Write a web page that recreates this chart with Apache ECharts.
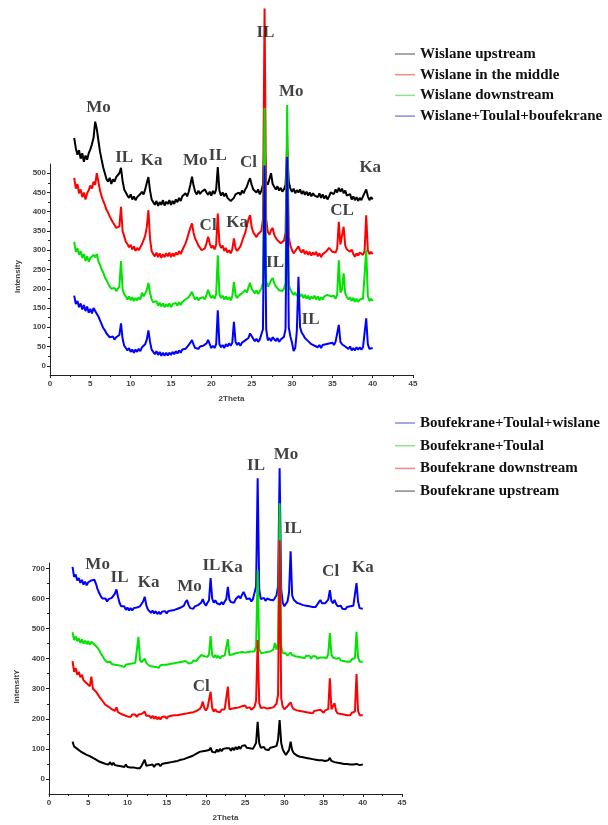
<!DOCTYPE html>
<html>
<head>
<meta charset="utf-8">
<script src="https://cdn.jsdelivr.net/npm/echarts@6/dist/echarts.min.js"></script>
<style>
  html, body { margin: 0; padding: 0; background: #ffffff; }
  #chart { width: 608px; height: 825px; }
</style>
</head>
<body>
<div id="chart"></div>
<script>
// 2θ sampling positions shared by every scan: 3° to 40° in 0.2° steps (186 points)
const twoTheta = [];
for (let i = 0; i <= 185; i++) twoTheta.push(+(3 + i * 0.2).toFixed(1));

// ---------- Wislane scans (upper panel) ----------
const wislaneUpstream = [
  592,565,548,560,538,552,530,546,535,552,
  562,575,592,634,615,585,556,535,515,500,
  485,478,488,472,484,478,490,485,500,514,
  480,458,450,442,436,445,432,440,430,438,
  436,446,452,445,458,475,490,455,432,425,
  418,428,415,425,418,430,416,426,420,430,
  418,428,420,432,425,436,428,440,438,448,
  440,452,470,491,468,452,445,455,446,452,
  448,458,450,444,452,442,454,446,458,516,
  455,442,450,440,448,436,432,428,426,436,
  445,440,450,444,455,448,458,465,478,487,
  470,458,462,450,458,445,455,470,580,478,
  470,485,500,472,465,458,466,455,462,452,
  458,470,560,478,460,452,460,448,456,450,
  458,446,454,444,452,442,450,440,448,442,
  446,438,448,436,445,434,442,432,440,450,
  455,446,458,450,462,452,460,448,455,442,
  438,446,432,440,430,438,428,436,430,440,
  435,458,440,430,438,432
];
const wislaneMiddle = [
  488,460,472,448,458,438,450,432,448,456,
  468,460,478,470,500,478,455,440,428,418,
  405,398,388,380,372,366,358,354,362,413,
  350,336,322,316,308,314,302,310,298,306,
  300,308,316,326,338,360,404,330,298,290,
  284,294,282,292,280,290,282,292,284,294,
  282,292,284,294,288,298,290,300,305,318,
  330,345,358,370,345,330,322,312,306,300,
  298,305,318,335,318,306,312,302,315,395,
  318,306,312,298,306,294,300,292,302,331,
  305,298,304,310,322,335,345,362,380,391,
  360,346,340,334,342,338,350,380,928,380,
  348,340,352,358,340,332,326,322,318,316,
  325,345,600,335,312,300,292,298,304,310,
  300,294,302,290,298,288,296,286,294,288,
  296,284,292,282,290,286,296,300,306,302,
  296,300,294,304,374,315,318,361,312,302,
  304,296,302,290,283,292,286,294,292,288,
  298,391,300,290,296,290
];
const wislaneDownstream = [
  322,296,305,288,298,280,290,272,284,270,
  280,276,288,282,290,272,262,250,242,230,
  222,214,206,200,196,202,194,198,206,272,
  198,186,180,172,180,170,178,168,176,170,
  178,172,190,180,188,196,215,190,172,165,
  160,168,156,164,154,162,152,160,154,162,
  152,160,155,163,156,165,158,166,162,172,
  168,178,185,192,180,172,178,170,176,172,
  178,172,184,197,184,176,182,174,186,287,
  186,176,182,172,180,172,178,170,180,218,
  184,176,182,178,188,184,197,190,204,215,
  200,194,188,196,186,194,200,215,670,220,
  205,212,222,228,214,206,202,196,200,194,
  200,215,677,210,198,190,184,190,182,188,
  180,186,176,184,174,182,172,180,174,182,
  172,180,170,178,172,180,176,184,188,180,
  176,182,174,184,274,190,198,240,188,178,
  172,178,168,176,166,174,166,172,168,174,
  176,300,182,168,174,168
];
const wislaneMix = [
  182,160,168,152,162,146,158,142,154,138,
  148,136,150,142,146,128,118,108,98,92,
  84,80,74,70,76,68,74,70,80,110,
  70,52,46,40,46,36,42,34,42,36,
  44,38,48,46,56,68,92,62,42,36,
  30,38,28,36,26,34,26,34,27,34,
  28,36,30,38,32,40,34,42,38,44,
  46,54,60,67,55,46,50,44,50,46,
  52,48,58,67,56,46,52,46,56,144,
  56,48,54,46,56,50,58,52,60,114,
  62,54,60,52,60,58,66,62,72,84,
  80,70,64,70,62,68,72,95,520,95,
  66,72,64,74,70,64,72,62,68,66,
  75,95,542,100,76,60,38,46,90,231,
  100,86,80,72,68,64,60,56,60,52,
  56,48,54,46,54,50,56,60,58,54,
  60,54,62,66,106,62,56,60,50,46,
  44,50,40,46,40,48,42,48,42,48,
  52,123,56,44,48,46
];

// ---------- Boufekrane scans (lower panel) ----------
const boufekraneMix = [
  705,672,680,660,668,652,662,646,656,644,
  654,648,660,655,662,648,630,618,608,600,
  594,600,590,598,592,602,608,616,630,605,
  585,574,568,574,562,570,560,568,560,568,
  562,570,566,574,580,590,606,578,564,558,
  552,560,550,558,548,556,548,556,550,558,
  550,558,552,560,554,562,556,566,562,570,
  566,576,588,595,578,568,574,566,574,570,
  578,572,586,598,584,576,586,594,668,600,
  586,594,584,590,580,588,580,590,598,639,
  596,588,594,586,598,602,608,600,612,622,
  610,598,592,600,590,598,604,640,1000,630,
  598,594,602,592,600,604,596,602,594,600,
  610,640,1033,630,586,574,580,590,620,757,
  610,596,594,586,592,582,588,578,584,576,
  582,574,580,572,578,572,580,588,595,584,
  578,584,580,596,628,592,584,595,582,574,
  570,576,566,572,564,572,566,574,570,576,
  580,651,590,568,574,566
];
const boufekraneToulal = [
  488,462,474,458,468,452,464,450,460,448,
  458,446,456,450,446,440,436,428,418,410,
  400,394,388,384,390,382,388,380,386,378,
  384,376,382,372,380,374,382,376,384,380,
  386,392,472,396,388,394,400,386,380,376,
  382,374,380,372,378,370,378,372,380,374,
  380,374,382,376,384,378,386,380,388,384,
  390,384,392,388,384,390,386,394,398,392,
  400,406,412,416,408,414,406,414,475,412,
  404,412,402,410,400,408,402,410,406,465,
  412,406,414,408,418,412,420,414,422,428,
  420,414,422,416,424,418,424,440,694,432,
  418,412,420,414,422,416,424,420,430,452,
  430,450,917,440,418,412,418,410,416,420,
  412,418,408,414,406,412,404,410,402,410,
  404,410,400,408,402,408,400,406,404,410,
  404,410,402,416,485,414,404,410,400,396,
  402,394,400,392,398,390,396,390,398,394,
  402,489,404,390,396,390
];
const boufekraneDownstream = [
  392,356,368,346,356,338,346,328,334,318,
  320,308,340,300,306,290,282,274,268,260,
  254,246,250,240,236,232,236,226,238,222,
  226,216,222,212,218,208,214,206,214,208,
  214,206,214,208,216,212,224,210,204,210,
  202,210,200,208,198,206,198,206,200,208,
  200,208,202,210,204,212,206,212,208,214,
  208,216,210,218,212,220,214,222,218,226,
  224,232,240,257,236,228,236,240,290,236,
  224,232,224,230,222,230,224,232,236,307,
  232,226,234,228,236,230,238,232,242,236,
  244,236,232,238,230,236,240,260,462,252,
  236,230,238,244,234,228,236,230,238,244,
  250,280,794,268,240,232,238,242,248,255,
  240,232,238,228,234,226,232,224,230,222,
  228,220,226,218,226,220,228,222,230,226,
  220,228,222,232,335,232,228,252,226,218,
  224,216,222,214,220,212,218,212,220,216,
  224,349,226,212,218,212
];
const boufekraneUpstream = [
  124,108,114,100,106,92,98,86,92,80,
  86,76,82,70,76,64,70,58,64,54,
  60,50,56,48,56,46,54,46,52,44,
  50,42,48,40,48,40,46,38,44,38,
  44,36,42,36,44,48,64,44,38,46,
  40,48,40,48,42,50,42,50,44,52,
  46,54,48,56,50,58,52,60,56,64,
  58,66,60,70,64,74,68,78,74,84,
  80,90,84,92,86,94,88,96,104,90,
  96,88,98,90,100,92,100,94,102,96,
  102,94,104,96,106,98,108,100,110,104,
  112,104,110,102,108,100,106,120,190,118,
  104,98,106,98,104,96,104,98,106,112,
  110,130,196,120,98,88,80,74,96,124,
  96,86,82,78,84,74,80,72,78,70,
  76,68,74,66,72,64,70,62,68,62,
  66,60,66,62,70,60,64,56,62,54,
  60,52,58,50,56,50,56,48,54,48,
  54,50,56,46,52,48
];

// Axis ticks
const yTicksTop = [0, 50, 100, 150, 200, 250, 300, 350, 400, 450, 500];
const yMinorTop = [25, 75, 125, 175, 225, 275, 325, 375, 425, 475];
const yTicksBottom = [0, 100, 200, 300, 400, 500, 600, 700];
const yMinorBottom = [50, 150, 250, 350, 450, 550, 650];

// Phase labels: [text, 2θ, intensity]
const phasesTop = [
  ['IL', 26.7, 864], ['Mo', 29.9, 711], ['Mo', 6.0, 671],
  ['IL', 9.2, 540], ['Ka', 12.6, 534], ['Mo', 18.0, 534], ['IL', 20.8, 545],
  ['Cl', 24.6, 527], ['Ka', 39.7, 514],
  ['Cl', 19.6, 365], ['Ka', 23.2, 373], ['CL', 36.2, 404],
  ['IL', 27.9, 269], ['IL', 32.3, 119]
];
const phasesBottom = [
  ['IL', 26.4, 1043], ['Mo', 30.2, 1080], ['IL', 31.1, 834],
  ['Mo', 6.2, 711], ['IL', 9.0, 668], ['Ka', 12.7, 654], ['Mo', 17.9, 641],
  ['IL', 20.7, 708], ['Ka', 23.3, 704], ['Cl', 35.9, 688], ['Ka', 40.0, 704],
  ['Cl', 19.4, 306]
];

const namesTop = ['Wislane upstream', 'Wislane in the middle', 'Wislane downstream', 'Wislane+Toulal+boufekrane'];
const namesBottom = ['Boufekrane+Toulal+wislane', 'Boufekrane+Toulal', 'Boufekrane downstream', 'Boufekrane upstream'];

const SERIF = '"Liberation Serif", "Times New Roman", serif';
const SANS = '"Liberation Sans", Arial, sans-serif';
const BLACK = '#000000', RED = '#ff0000', GREEN = '#00e400', BLUE = '#0000ff';

function scan(name, ys, color, panel) {
  return {
    name: name, type: 'line',
    xAxisIndex: panel, yAxisIndex: panel * 2,
    data: ys.map((y, i) => [twoTheta[i], y]),
    symbol: 'none', showSymbol: false, clip: false, silent: true,
    lineStyle: { color: color, width: 2 },
    itemStyle: { color: color },
    emphasis: { disabled: true },
    animation: false
  };
}

function phaseTags(list, panel) {
  return {
    type: 'scatter', xAxisIndex: panel, yAxisIndex: panel * 2,
    symbol: 'circle', symbolSize: 1, clip: false, silent: true, z: 5,
    itemStyle: { color: 'rgba(0,0,0,0)' },
    data: list.map(d => ({ name: d[0], value: [d[1], d[2]] })),
    label: {
      show: true, position: 'inside', formatter: p => p.name,
      fontFamily: SERIF, fontWeight: 'bold', fontSize: 17, color: '#111'
    },
    animation: false
  };
}

function xAxisFor(panel) {
  return {
    gridIndex: panel, type: 'value', min: 0, max: 45, interval: 5,
    axisLine: { show: true, onZero: false, lineStyle: { color: '#222', width: 1 } },
    axisTick: { show: true, length: 3, lineStyle: { color: '#222' } },
    minorTick: { show: true, splitNumber: 2, length: 2, lineStyle: { color: '#222' } },
    axisLabel: { fontFamily: SANS, fontSize: 8, fontWeight: 'bold', color: '#444', margin: 5 },
    splitLine: { show: false },
    name: '2Theta', nameLocation: 'middle', nameGap: 20,
    nameTextStyle: { fontFamily: SANS, fontSize: 8, fontWeight: 'bold', color: '#444' }
  };
}

function yAxesFor(panel, min, max, majors, minors, title, shift) {
  return [{
    gridIndex: panel, type: 'value', position: 'left', min: min, max: max,
    axisLine: { show: true, onZero: false, lineStyle: { color: '#222', width: 1 } },
    axisTick: { show: true, length: 3, customValues: majors, lineStyle: { color: '#222' } },
    axisLabel: { customValues: majors, fontFamily: SANS, fontSize: 8, fontWeight: 'bold', color: '#444', margin: 4 },
    splitLine: { show: false },
    name: title, nameLocation: 'middle', nameGap: 26,
    nameTextStyle: { fontFamily: SANS, fontSize: 8, fontWeight: 'bold', color: '#444', padding: [0, shift, 0, 0] }
  }, {
    gridIndex: panel, type: 'value', position: 'left', min: min, max: max,
    axisLine: { show: false },
    axisTick: { show: true, length: 2, customValues: minors, lineStyle: { color: '#222' } },
    axisLabel: { show: false },
    splitLine: { show: false }
  }];
}

function legendFor(names, colors, top, gap) {
  return {
    orient: 'vertical', left: 390, top: top,
    icon: 'rect', itemWidth: 20, itemHeight: 1.5, itemGap: gap, selectedMode: false,
    textStyle: { fontFamily: SERIF, fontWeight: 'bold', fontSize: 15, color: '#111', lineHeight: 16 },
    data: names.map((n, i) => ({ name: n, itemStyle: { color: colors[i] } }))
  };
}

const chart = echarts.init(document.getElementById('chart'), null, { renderer: 'canvas' });
chart.setOption({
  backgroundColor: '#ffffff',
  animation: false,
  grid: [
    { left: 50, top: 164, width: 363, height: 211 },
    { left: 49, top: 563, width: 353, height: 231 }
  ],
  xAxis: [xAxisFor(0), xAxisFor(1)],
  yAxis: [].concat(
    yAxesFor(0, -24, 524, yTicksTop, yMinorTop, 'Intensity', 14),
    yAxesFor(1, -50, 718, yTicksBottom, yMinorBottom, 'IntensitY', 16)
  ),
  legend: [
    legendFor(namesTop, ['#8a8a8a', '#f08a8a', '#8ae68a', '#8a8ad8'], 41, 4.7),
    legendFor(namesBottom, ['#8a8ad8', '#8ae68a', '#f08a8a', '#8a8a8a'], 410, 6.7)
  ],
  series: [
    scan(namesTop[0], wislaneUpstream, BLACK, 0),
    scan(namesTop[1], wislaneMiddle, RED, 0),
    scan(namesTop[2], wislaneDownstream, GREEN, 0),
    scan(namesTop[3], wislaneMix, BLUE, 0),
    scan(namesBottom[0], boufekraneMix, BLUE, 1),
    scan(namesBottom[1], boufekraneToulal, GREEN, 1),
    scan(namesBottom[2], boufekraneDownstream, RED, 1),
    scan(namesBottom[3], boufekraneUpstream, BLACK, 1),
    phaseTags(phasesTop, 0),
    phaseTags(phasesBottom, 1)
  ]
});
</script>
</body>
</html>
